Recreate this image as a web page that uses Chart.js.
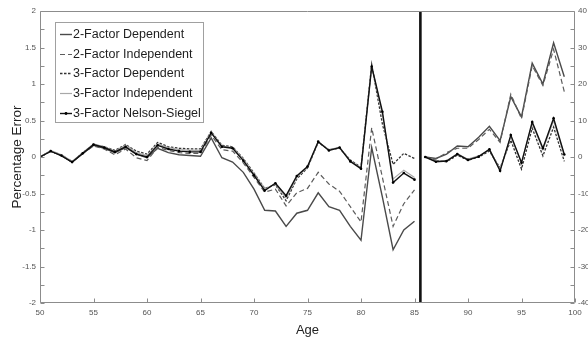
<!DOCTYPE html>
<html><head><meta charset="utf-8">
<script src="https://cdn.jsdelivr.net/npm/chart.js@4.4.1/dist/chart.umd.min.js"></script>
<style>html,body{margin:0;padding:0;background:#fff}#wrap{width:588px;height:338px;position:relative}</style>
</head><body><div id="wrap"><canvas id="c" width="588" height="338"></canvas></div>
<script>
// ---- data ----
const seriesNames = ['2-Factor Dependent','2-Factor Independent','3-Factor Dependent','3-Factor Independent','3-Factor Nelson-Siegel'];
const leftAges = [50,51,52,53,54,55,56,57,58,59,60,61,62,63,64,65,66,67,68,69,70,71,72,73,74,75,76,77,78,79,80,81,82,83,84,85];
const rightAges = [86,87,88,89,90,91,92,93,94,95,96,97,98,99];

// left section (percentage error, left axis)
const left2FD = [0.00,0.08,0.02,-0.07,0.05,0.16,0.12,0.06,0.13,0.04,-0.01,0.12,0.06,0.03,0.02,0.01,0.26,-0.01,-0.07,-0.21,-0.44,-0.73,-0.74,-0.95,-0.77,-0.73,-0.49,-0.68,-0.73,-0.95,-1.14,0.13,-0.55,-1.27,-1.00,-0.88];
const left2FI = [0.00,0.08,0.03,-0.06,0.05,0.15,0.11,0.03,0.11,-0.01,-0.05,0.13,0.09,0.06,0.05,0.05,0.30,0.10,0.08,-0.08,-0.28,-0.48,-0.44,-0.67,-0.49,-0.43,-0.21,-0.37,-0.47,-0.68,-0.89,0.40,-0.28,-0.95,-0.64,-0.45];
const left3FD = [0.00,0.08,0.02,-0.07,0.06,0.17,0.14,0.09,0.17,0.08,0.04,0.20,0.14,0.12,0.11,0.11,0.35,0.16,0.14,-0.02,-0.22,-0.43,-0.38,-0.60,-0.30,-0.15,0.20,0.10,0.12,-0.04,-0.14,1.27,0.45,-0.10,0.05,-0.02];
const left3FI = [0.00,0.09,0.03,-0.06,0.06,0.18,0.14,0.08,0.16,0.06,0.02,0.18,0.13,0.10,0.09,0.09,0.34,0.15,0.13,-0.03,-0.23,-0.44,-0.37,-0.56,-0.28,-0.14,0.21,0.10,0.13,-0.05,-0.15,1.25,0.58,-0.30,-0.18,-0.28];
const leftNS  = [0.00,0.08,0.02,-0.07,0.05,0.17,0.13,0.07,0.14,0.04,0.00,0.16,0.11,0.08,0.07,0.07,0.33,0.14,0.12,-0.05,-0.25,-0.46,-0.36,-0.53,-0.26,-0.13,0.21,0.09,0.13,-0.06,-0.16,1.24,0.62,-0.35,-0.22,-0.31];

// right section (right axis)
const right2FD = [0,-0.4,0.8,3.0,2.8,5.4,8.4,4.5,16.5,11.0,25.7,20.0,31.3,22.0];
const right2FI = [0,-0.6,1.2,2.4,2.4,4.8,7.6,4.0,17.2,10.5,25.0,19.6,29.5,17.9];
const right3FD = [0,-1.0,-1.3,0.5,-0.9,0.0,1.6,-3.0,4.6,-3.3,7.9,0.3,8.2,-1.2];
const right3FI = [0,-1.2,-1.0,0.9,-0.6,0.3,2.0,-3.4,5.6,-1.6,9.2,2.0,10.0,0.5];
const rightNS  = [0,-1.3,-1.1,0.8,-0.8,0.1,2.1,-3.8,6.0,-1.6,9.6,2.4,10.6,0.7];

const xTicks = [50,55,60,65,70,75,80,85,90,95,100];
const leftTicks = [-2,-1.5,-1,-0.5,0,0.5,1,1.5,2];
const rightTicks = [-40,-30,-20,-10,0,10,20,30,40];
const leftMinorTicks = [-2,-1.75,-1.5,-1.25,-1,-0.75,-0.5,-0.25,0,0.25,0.5,0.75,1,1.25,1.5,1.75,2];
const rightMinorTicks = [-40,-35,-30,-25,-20,-15,-10,-5,0,5,10,15,20,25,30,35,40];
const dividerAge = [85.55];

// ---- styles ----
const styles = [
  {borderColor:'#4a4a4a', borderWidth:1.4, borderDash:[]},
  {borderColor:'#5c5c5c', borderWidth:1.2, borderDash:[5,3]},
  {borderColor:'#333333', borderWidth:1.3, borderDash:[2.5,1.5]},
  {borderColor:'#a8a8a8', borderWidth:1.2, borderDash:[]},
  {borderColor:'#111111', borderWidth:1.4, borderDash:[]}
];
const leftSeries = [left2FD,left2FI,left3FD,left3FI,leftNS];
const rightSeries = [right2FD,right2FI,right3FD,right3FI,rightNS];

const datasets = [];
leftSeries.forEach((arr,k)=>{
  datasets.push(Object.assign({
    label: seriesNames[k], legendEntry:true, yAxisID:'y',
    data: leftAges.map((a,i)=>({x:a,y:arr[i]})),
    pointRadius: k===4?1.3:0, pointBackgroundColor:'#000', pointBorderWidth:0,
    tension:0, fill:false, order: 5-k
  }, styles[k]));
});
rightSeries.forEach((arr,k)=>{
  datasets.push(Object.assign({
    label: seriesNames[k]+' (86+)', legendEntry:false, yAxisID:'y2',
    data: rightAges.map((a,i)=>({x:a,y:arr[i]})),
    pointRadius: k===4?1.3:0, pointBackgroundColor:'#000', pointBorderWidth:0,
    tension:0, fill:false, order: 5-k
  }, styles[k]));
});
datasets.push({
  label:'divider', legendEntry:false, yAxisID:'y',
  data: [{x:dividerAge[0], y:leftTicks[0]},{x:dividerAge[0], y:leftTicks[leftTicks.length-1]}],
  borderColor:'#111', borderWidth:2.6, pointRadius:0, order:0
});

const FONT = '"Liberation Sans", Arial, Helvetica, sans-serif';

const framePlugin = {
  id:'frame',
  afterDatasetsDraw(chart){
    const {ctx, chartArea:a, scales} = chart;
    ctx.save();
    ctx.strokeStyle = '#8c8c8c'; ctx.lineWidth = 1;
    const L = Math.round(a.left)+0.5, R = Math.round(a.right)-0.5, T = Math.round(a.top)+0.5, B = Math.round(a.bottom)-0.5;
    ctx.beginPath();
    ctx.moveTo(L,T); ctx.lineTo(R,T); ctx.lineTo(R,B); ctx.lineTo(L,B); ctx.closePath();
    ctx.stroke();
    ctx.beginPath();
    leftMinorTicks.forEach(v=>{ const y = Math.round(scales.y.getPixelForValue(v))+0.5; ctx.moveTo(L,y); ctx.lineTo(L+4,y); });
    rightMinorTicks.forEach(v=>{ const y = Math.round(scales.y2.getPixelForValue(v))+0.5; ctx.moveTo(R,y); ctx.lineTo(R-4,y); });
    xTicks.forEach(v=>{ const x = Math.round(scales.x.getPixelForValue(v))+0.5; ctx.moveTo(x,B); ctx.lineTo(x,B-4); });
    ctx.stroke();
    ctx.restore();
  }
};

const legendPlugin = {
  id:'insideLegend',
  afterDraw(chart){
    const ctx = chart.ctx;
    ctx.save();
    const bx=55.5, by=22.5, bw=148, bh=100;
    ctx.fillStyle='#fff'; ctx.fillRect(bx,by,bw,bh);
    ctx.strokeStyle='#a0a0a0'; ctx.lineWidth=1; ctx.strokeRect(bx,by,bw,bh);
    ctx.font = '12.5px ' + FONT;
    ctx.textBaseline='middle'; ctx.textAlign='left';
    chart.data.datasets.filter(d=>d.legendEntry).forEach((d,i)=>{
      const y = Math.round(34 + i*19.7)+0.5;
      ctx.beginPath(); ctx.setLineDash(d.borderDash||[]);
      ctx.strokeStyle=d.borderColor; ctx.lineWidth=d.borderWidth;
      ctx.moveTo(60,y); ctx.lineTo(72,y); ctx.stroke();
      ctx.setLineDash([]);
      if (d.pointRadius>0){ ctx.fillStyle='#000'; ctx.beginPath(); ctx.arc(66,y,1.4,0,Math.PI*2); ctx.fill(); }
      ctx.fillStyle='#1e1e1e';
      ctx.fillText(d.label, 73, y+0.5);
    });
    ctx.restore();
  }
};

new Chart(document.getElementById('c'), {
  type:'line',
  data:{datasets},
  options:{
    responsive:false, animation:false, devicePixelRatio:1,
    layout:{padding:{top:11,left:0,right:0,bottom:0}},
    plugins:{legend:{display:false}, tooltip:{enabled:false}},
    scales:{
      x:{type:'linear', position:'bottom', min:50, max:100,
        afterBuildTicks:s=>{ s.ticks = xTicks.map(v=>({value:v})); },
        afterFit:s=>{ s.height = 35; },
        grid:{display:false, drawTicks:false}, border:{display:false},
        ticks:{font:{size:8, family:FONT}, color:'#555', padding:5, maxRotation:0, autoSkip:false, callback:v=>String(v)},
        title:{display:true, text:'Age', font:{size:13, family:FONT}, color:'#222', padding:{top:0,bottom:0}}
      },
      y:{type:'linear', position:'left', min:-2, max:2,
        afterBuildTicks:s=>{ s.ticks = leftTicks.map(v=>({value:v})); },
        afterFit:s=>{ s.width = 40; },
        grid:{display:false, drawTicks:false}, border:{display:false},
        ticks:{font:{size:8, family:FONT}, color:'#555', padding:4, callback:v=>String(v)},
        title:{display:true, text:'Percentage Error', font:{size:13.5, family:FONT}, color:'#222', padding:{top:9,bottom:0}}
      },
      y2:{type:'linear', position:'right', min:-40, max:40,
        afterBuildTicks:s=>{ s.ticks = rightTicks.map(v=>({value:v})); },
        afterFit:s=>{ s.width = 13; },
        grid:{display:false, drawTicks:false}, border:{display:false},
        ticks:{font:{size:8, family:FONT}, color:'#555', padding:3, callback:v=>String(v)}
      }
    }
  },
  plugins:[framePlugin, legendPlugin]
});
</script></body></html>
